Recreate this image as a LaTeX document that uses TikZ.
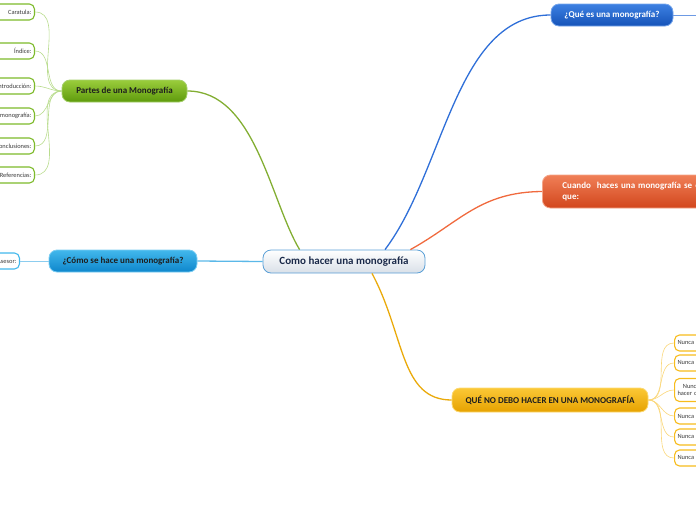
\documentclass[tikz,border=0pt]{standalone}
\usepackage{fontspec}
\setmainfont{Carlito}
\usepackage{tikz}
\usetikzlibrary{positioning}
\definecolor{mapInk}{HTML}{1B2A4A}
\definecolor{mapText}{HTML}{1E1E1E}
\definecolor{leafInk}{HTML}{3A3A3A}
\definecolor{rootEdge}{HTML}{5A9FD6}
\definecolor{rootLow}{HTML}{D9E0E8}
\definecolor{grnTop}{HTML}{9ACD3C}
\definecolor{grnLow}{HTML}{5E9A0C}
\definecolor{grnEdge}{HTML}{7DBA2A}
\definecolor{grnLink}{HTML}{B9DC8E}
\definecolor{skyTop}{HTML}{42B8EC}
\definecolor{skyLow}{HTML}{0E86CC}
\definecolor{skyLink}{HTML}{5BB8E8}
\definecolor{bluTop}{HTML}{3D80E2}
\definecolor{bluLow}{HTML}{1553B8}
\definecolor{bluLink}{HTML}{2F6FD8}
\definecolor{orgTop}{HTML}{F07F57}
\definecolor{orgLow}{HTML}{D2461C}
\definecolor{orgLink}{HTML}{F06A3E}
\definecolor{ylwTop}{HTML}{FBC836}
\definecolor{ylwLow}{HTML}{E6A200}
\definecolor{ylwEdge}{HTML}{F7BC1C}
\definecolor{ylwLink}{HTML}{FAD77A}
\tikzset{
  topicbox/.style={rounded corners=8pt, draw, line width=0.8pt, align=center,
                   minimum height=22pt, inner sep=3pt, text=mapText,
                   font=\fontsize{9}{10.5}\selectfont\bfseries},
  leafbox/.style={rounded corners=5pt, draw, fill=white, line width=1.1pt,
                  minimum height=16pt, inner sep=3pt, text=leafInk,
                  font=\fontsize{6.4}{7.4}\selectfont},
  mainlink/.style={line width=1.3pt},
  leaflink/.style={line width=0.6pt},
}

\begin{document}
\begin{tikzpicture}[x=1pt, y=-1pt]
  \useasboundingbox (0,0) rectangle (696,520);
  \clip (0,0) rectangle (696,520);

  % central topic
  \node[topicbox, draw=rootEdge, top color=white, bottom color=rootLow, text=mapInk,
        minimum width=162pt, minimum height=23pt, font=\fontsize{11}{13}\selectfont\bfseries]
    (root) at (344,261.5) {Como hacer una monografía};

  % main topics
  \node[topicbox, draw=grnEdge!70, top color=grnTop, bottom color=grnLow, minimum width=125pt]
    (partes) at (124.5,91) {Partes de una Monografía};
  \node[topicbox, draw=skyTop!70, top color=skyTop, bottom color=skyLow, minimum width=148pt]
    (como) at (123,261) {¿Cómo se hace una monografía?};
  \node[topicbox, draw=bluTop!70, top color=bluTop, bottom color=bluLow, text=white,
        minimum width=122pt] (quees) at (612,15) {¿Qué es una monografía?};
  \node[topicbox, draw=orgTop!70, top color=orgTop, bottom color=orgLow, text=white,
        anchor=west, align=left, minimum height=33pt, text width=180pt, inner xsep=20pt]
    (cuando) at (542,191.5) {Cuando\ \ haces una monografía se espera\\que:};
  \node[topicbox, draw=ylwTop!70, top color=ylwTop, bottom color=ylwLow, minimum width=196pt,
        minimum height=24pt] (nodebo) at (550,400) {QUÉ NO DEBO HACER EN UNA MONOGRAFÍA};

  % main links
  \draw[mainlink, grnTop!85!black] (root.north west) ++(37,0) coordinate (gstart)
    .. controls (270,200) and (255,91) .. (partes.east);
  \draw[mainlink, skyLink] (root.west) -- (como.east);
  \draw[mainlink, bluLink] (root.north) ++(41,0) coordinate (bstart)
    .. controls (445,170) and (455,15) .. (quees.west);
  \draw[mainlink, orgLink] (root.north east) ++(-15,0) coordinate (ostart)
    .. controls (460,222) and (480,192) .. (cuando.west);
  \draw[mainlink, ylwLow!80!ylwTop] (root.south) ++(28,0) coordinate (ystart)
    .. controls (405,335) and (400,400) .. (nodebo.west);
  \coordinate (queesnext) at (700,15);
  \draw[leaflink, line width=1pt, bluLink!70] (quees.east) -- (queesnext);

  % parts of the monograph
  \foreach \y/\t/\n in {12/Caratula:/caratula, 51/Índice:/indice,
      86/Introducción:/intro, 116/Desarrollo de la monografía:/desarrollo,
      146/Conclusiones:/concl, 175/Referencias:/refs} {
    \node[leafbox, draw=grnEdge, anchor=east, text width=90pt, align=right] (\n) at (35,\y) {\t};
    \draw[leaflink, grnLink] (partes.west) to[out=180, in=0] (\n.east);
  }

  % how it is made
  \node[leafbox, draw=skyTop, anchor=east, text width=50pt, align=right] (asesor) at (20,261) {Asesor:};
  \draw[leaflink, line width=0.9pt, skyLink!70] (como.west) -- (asesor.east);

  % what not to do
  \foreach \y/\t/\n in {343/Nunca copiar/nuncaA, 363/Nunca plagiar/nuncaB,
      416/Nunca inventar/nuncaD, 437/Nunca divagar/nuncaE, 458/Nunca improvisar/nuncaF} {
    \node[leafbox, draw=ylwEdge, anchor=west, text width=60pt, align=left] (\n) at (674,\y) {\t};
    \draw[leaflink, ylwLink] (nodebo.east) to[out=0, in=180] (\n.west);
  }
  \node[leafbox, draw=ylwEdge, anchor=west, text width=60pt, align=left, minimum height=23pt]
    (nuncaC) at (674,390) {\ \ \,Nunca dejar de\\ hacer citas};
  \draw[leaflink, ylwLink] (nodebo.east) to[out=0, in=180] (nuncaC.west);
\end{tikzpicture}
\end{document}
